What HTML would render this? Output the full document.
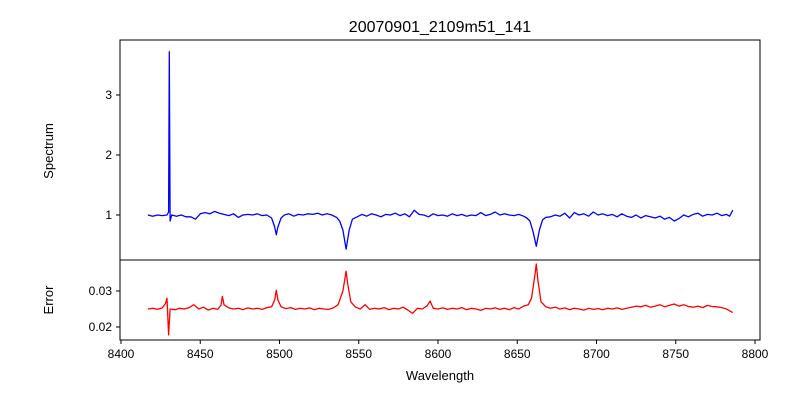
<!DOCTYPE html>
<html><head><meta charset="utf-8"><style>body{margin:0;background:#fff}svg{display:block;font-family:"Liberation Sans","DejaVu Sans",sans-serif}</style></head>
<body>
<svg id="c" width="800" height="400" xmlns="http://www.w3.org/2000/svg">
<text x="440" y="32" font-size="16" text-anchor="middle">20070901_2109m51_141</text>
<text transform="translate(53,151) rotate(-90)" font-size="13" text-anchor="middle">Spectrum</text>
<text transform="translate(53,300) rotate(-90)" font-size="13" text-anchor="middle">Error</text>
<text x="440" y="380" font-size="13" text-anchor="middle">Wavelength</text>
<g id="g"></g>
</svg>
<script>
const waves=[8417,8420,8423,8426,8429,8430,8430.5,8431,8432,8435,8438,8441,8444,8447,8450,8453,8456,8459,8462,8465,8468,8471,8474,8477,8480,8483,8486,8489,8492,8495,8497,8498,8499,8501,8503,8506,8509,8512,8515,8518,8521,8524,8527,8530,8533,8536,8538,8540,8542,8544,8546,8549,8552,8555,8558,8561,8564,8567,8570,8573,8576,8579,8582,8585,8588,8591,8594,8597,8600,8603,8606,8609,8612,8615,8618,8621,8624,8627,8630,8633,8636,8639,8642,8645,8648,8651,8654,8656,8658,8660,8662,8664,8666,8668,8671,8674,8677,8680,8683,8686,8689,8692,8695,8698,8701,8704,8707,8710,8713,8716,8719,8722,8725,8728,8731,8734,8737,8740,8743,8746,8749,8752,8755,8758,8761,8764,8767,8770,8773,8776,8779,8782,8784,8786];
const flux=[1.00,0.98,1.00,0.99,1.00,1.05,3.72,0.90,1.00,0.98,1.00,0.97,0.97,0.93,1.02,1.04,1.02,1.06,1.03,1.01,0.99,1.02,0.96,1.00,1.01,1.00,1.02,0.99,1.00,0.95,0.80,0.67,0.80,0.95,1.00,1.02,0.98,1.01,1.00,1.02,1.01,1.03,1.00,1.02,1.00,0.96,0.90,0.75,0.43,0.75,0.93,0.97,1.01,0.98,1.02,1.00,0.97,1.01,1.00,1.03,0.99,1.02,0.97,1.08,1.01,1.00,0.97,1.02,0.99,1.00,0.98,1.02,0.99,1.01,0.98,1.00,0.99,1.04,0.99,1.01,1.05,1.00,1.02,1.00,0.99,1.01,0.98,0.95,0.90,0.72,0.48,0.75,0.92,0.96,0.97,1.00,0.98,1.03,0.95,1.04,1.00,1.02,0.98,1.05,1.00,1.02,0.99,1.01,0.97,1.02,0.98,0.96,1.00,0.95,0.99,0.97,0.95,0.98,0.93,0.96,0.90,0.94,1.00,0.97,1.01,1.03,0.98,1.01,1.00,1.03,0.99,1.01,0.98,1.08];
const errWaves=[8417,8420,8423,8426,8428,8429,8430,8431,8434,8437,8440,8443,8446,8449,8452,8455,8458,8461,8463,8464,8465,8468,8471,8474,8477,8480,8483,8486,8489,8492,8495,8497,8498,8499,8501,8504,8507,8510,8513,8516,8519,8522,8525,8528,8531,8534,8537,8540,8542,8543,8545,8548,8551,8554,8557,8560,8563,8566,8569,8572,8575,8578,8581,8584,8587,8590,8593,8595,8597,8600,8603,8606,8609,8612,8615,8618,8621,8624,8627,8630,8633,8636,8639,8642,8645,8648,8651,8654,8657,8659,8661,8662,8663,8665,8668,8671,8674,8677,8680,8683,8686,8689,8692,8695,8698,8701,8704,8707,8710,8713,8716,8719,8722,8725,8728,8731,8734,8737,8740,8743,8746,8749,8752,8755,8758,8761,8764,8767,8770,8773,8776,8779,8782,8784,8786];
const err=[0.0250,0.0252,0.0249,0.0253,0.0265,0.0280,0.0178,0.0250,0.0248,0.0252,0.0250,0.0254,0.0262,0.0250,0.0255,0.0247,0.0252,0.0249,0.0260,0.0285,0.0262,0.0253,0.0250,0.0252,0.0248,0.0253,0.0250,0.0252,0.0249,0.0254,0.0256,0.0275,0.0302,0.0275,0.0256,0.0251,0.0254,0.0249,0.0252,0.0250,0.0253,0.0248,0.0252,0.0250,0.0249,0.0253,0.0262,0.0300,0.0355,0.0320,0.0270,0.0255,0.0250,0.0262,0.0249,0.0252,0.0250,0.0254,0.0248,0.0252,0.0250,0.0255,0.0247,0.0238,0.0252,0.0250,0.0258,0.0272,0.0252,0.0250,0.0253,0.0249,0.0252,0.0250,0.0254,0.0248,0.0252,0.0250,0.0246,0.0252,0.0250,0.0253,0.0249,0.0252,0.0248,0.0254,0.0250,0.0258,0.0262,0.0280,0.0340,0.0375,0.0330,0.0270,0.0256,0.0252,0.0255,0.0250,0.0253,0.0248,0.0252,0.0250,0.0247,0.0252,0.0249,0.0251,0.0248,0.0252,0.0250,0.0253,0.0249,0.0252,0.0255,0.0258,0.0256,0.0260,0.0255,0.0258,0.0262,0.0256,0.0260,0.0264,0.0258,0.0262,0.0257,0.0255,0.0258,0.0254,0.0260,0.0257,0.0256,0.0254,0.0250,0.0245,0.0240];
const xTicks=[8400,8450,8500,8550,8600,8650,8700,8750,8800];
const specTicks=[1,2,3];
const errTicks=[0.02,0.03];

const L=120,R=760,T1=40,B1=260,T2=260,B2=340;
const x=w=>121+(w-8400)*(634/400);
const y1=v=>215-(v-1)*60;
const y2=v=>327-(v-0.02)*3600;
const NS='http://www.w3.org/2000/svg';
const g=document.getElementById('g');
function mk(t,a){const e=document.createElementNS(NS,t);for(const k in a)e.setAttribute(k,a[k]);g.appendChild(e);return e;}

let p=waves.map((w,i)=>(i?'L':'M')+x(w).toFixed(1)+','+y1(flux[i]).toFixed(1)).join('');
const sl=mk('path',{d:p,fill:'none',stroke:'#0000ff','stroke-width':1.3,'stroke-linejoin':'round'});


p=errWaves.map((w,i)=>(i?'L':'M')+x(w).toFixed(1)+','+y2(err[i]).toFixed(1)).join('');
const el=mk('path',{d:p,fill:'none',stroke:'#ff0000','stroke-width':1.3,'stroke-linejoin':'round'});



const f1=mk('rect',{x:L,y:T1,width:R-L,height:B1-T1,fill:'none',stroke:'#000','stroke-width':1});


const f2=mk('rect',{x:L,y:T2,width:R-L,height:B2-T2,fill:'none',stroke:'#000','stroke-width':1});



xTicks.forEach(v=>{const xx=x(v);
 mk('line',{x1:xx,x2:xx,y1:B2,y2:B2+4,stroke:'#000'});
 const t=mk('text',{x:xx,y:B2+18,'font-size':12,'text-anchor':'middle'});t.textContent=v;
 
 });
specTicks.forEach(v=>{const yy=y1(v);
 mk('line',{x1:L-4,x2:L,y1:yy,y2:yy,stroke:'#000'});
 const t=mk('text',{x:L-8,y:yy+4,'font-size':12,'text-anchor':'end'});t.textContent=v;
 
 });
errTicks.forEach(v=>{const yy=y2(v);
 mk('line',{x1:L-4,x2:L,y1:yy,y2:yy,stroke:'#000'});
 const t=mk('text',{x:L-8,y:yy+4,'font-size':12,'text-anchor':'end'});t.textContent=v.toFixed(2);
 
 });
</script>
</body></html>
